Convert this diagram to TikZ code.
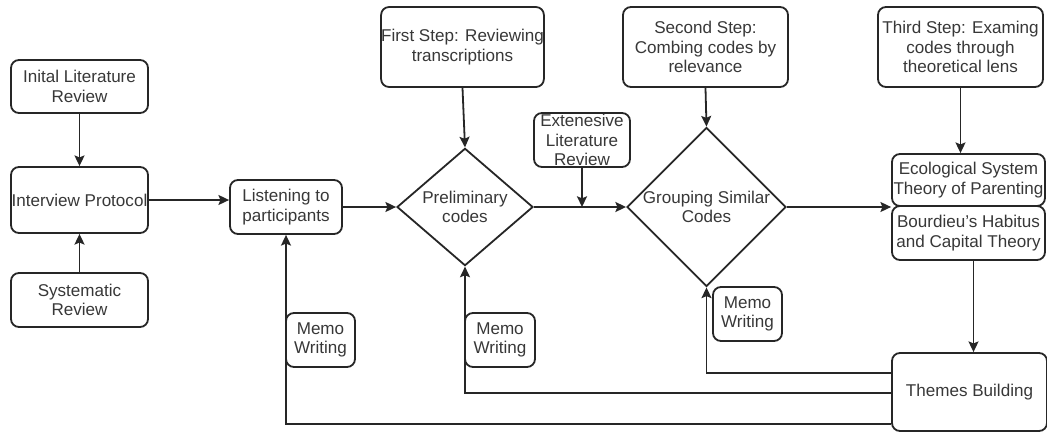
\documentclass[tikz,border=0pt]{standalone}
\usepackage{fontspec}
\setmainfont{Liberation Sans}
\usetikzlibrary{shapes.geometric,arrows.meta,calc}
\definecolor{ink}{HTML}{262626}
\definecolor{txt}{HTML}{383838}
\tikzset{
  box/.style={draw=ink, line width=1.35pt, rounded corners=6pt, fill=white,
    align=center, inner sep=0pt, text=txt,
    font=\fontsize{12.8}{14.6}\selectfont},
  decide/.style={diamond, draw=ink, line width=1.35pt, fill=white,
    align=center, inner sep=0pt, text=txt,
    font=\fontsize{12.8}{14.6}\selectfont},
  link/.style={draw=ink, line width=1.35pt},
  flow/.style={link, -{Stealth[length=8pt,width=7.5pt,inset=1.5pt]}},
}
\begin{document}
\begin{tikzpicture}[x=0.75pt, y=-0.75pt]
\useasboundingbox (0,0) rectangle (1047,432);

% entry column
\node[box, minimum width=102.75pt, minimum height=39.75pt] (ilr) at (79.5,86.5) {Inital Literature\\Review};
\node[box, minimum width=102.75pt, minimum height=49.5pt] (ip) at (79.5,200) {Interview Protocol};
\node[box, minimum width=102.75pt, minimum height=40.5pt] (sr) at (79.5,300) {Systematic\\Review};

% main row
\node[box, minimum width=84pt, minimum height=40.5pt] (lp) at (286,207) {Listening to\\participants};
\node[decide, minimum width=102pt, minimum height=78.75pt] (pc) at (465,207) {Preliminary\\codes};
\node[decide, minimum width=113.25pt, minimum height=78.75pt] (gsc) at (706.5,207) {Grouping Similar\\Codes};

% steps along the top
\node[box, minimum width=120.75pt, minimum height=60pt] (fs) at (462.5,47) {First Step: Reviewing\\transcriptions};
\node[box, minimum width=123.75pt, minimum height=60pt] (ss) at (705.5,47) {Second Step:\\Combing codes by\\relevance};
\node[box, minimum width=123.75pt, minimum height=60pt] (ts) at (960.5,47) {Third Step: Examing\\codes through\\theoretical lens};
\node[box, minimum width=72pt, minimum height=40.5pt] (elr) at (582,140) {Extenesive\\Literature\\Review};

% theory boxes and themes
\node[box, minimum width=114.75pt, minimum height=39pt] (eco) at (968.5,180) {Ecological System\\Theory of Parenting};
\node[box, minimum width=114.75pt, minimum height=40.5pt] (bou) at (968.5,233) {Bourdieu's Habitus\\and Capital Theory};
\node[box, minimum width=116.25pt, minimum height=58.5pt] (tb) at (969.5,392) {Themes Building};

% forward flow
\draw[flow] (ilr.south) -- (ip.north);
\draw[flow] (sr.north) -- (ip.south);
\draw[flow] (ip.east) -- (ip.east -| lp.west);
\draw[flow] (lp.east) -- (pc.west);
\draw[flow] (fs.south) -- (pc.north);
\draw[flow] (pc.east) -- (gsc.west);
\draw[flow] (elr.south) -- (elr.south |- pc.east);
\draw[flow] (ss.south) -- (gsc.north);
\draw[flow] (gsc.east) -- (gsc.east -| eco.west);
\draw[flow] (ts.south) -- (ts.south |- eco.north);
\draw[flow] ($(bou.south)+(5,0)$) -- ($(bou.south |- tb.north)+(5,0)$);

% feedback loops from themes building
\draw[flow] ($(tb.west)+(0,-19)$) -| (gsc.south);
\draw[flow] ($(tb.west)+(0,1)$) -| (pc.south);
\draw[flow] ($(tb.west)+(0,32)$) -| (lp.south);

% memo notes on the loops
\node[box, minimum width=51.75pt, minimum height=40.5pt] (m1) at (320.5,340) {Memo\\Writing};
\node[box, minimum width=52.5pt, minimum height=40.5pt] (m2) at (500,340) {Memo\\Writing};
\node[box, minimum width=51.75pt, minimum height=40.5pt] (m3) at (747.5,314) {Memo\\Writing};
\end{tikzpicture}
\end{document}
